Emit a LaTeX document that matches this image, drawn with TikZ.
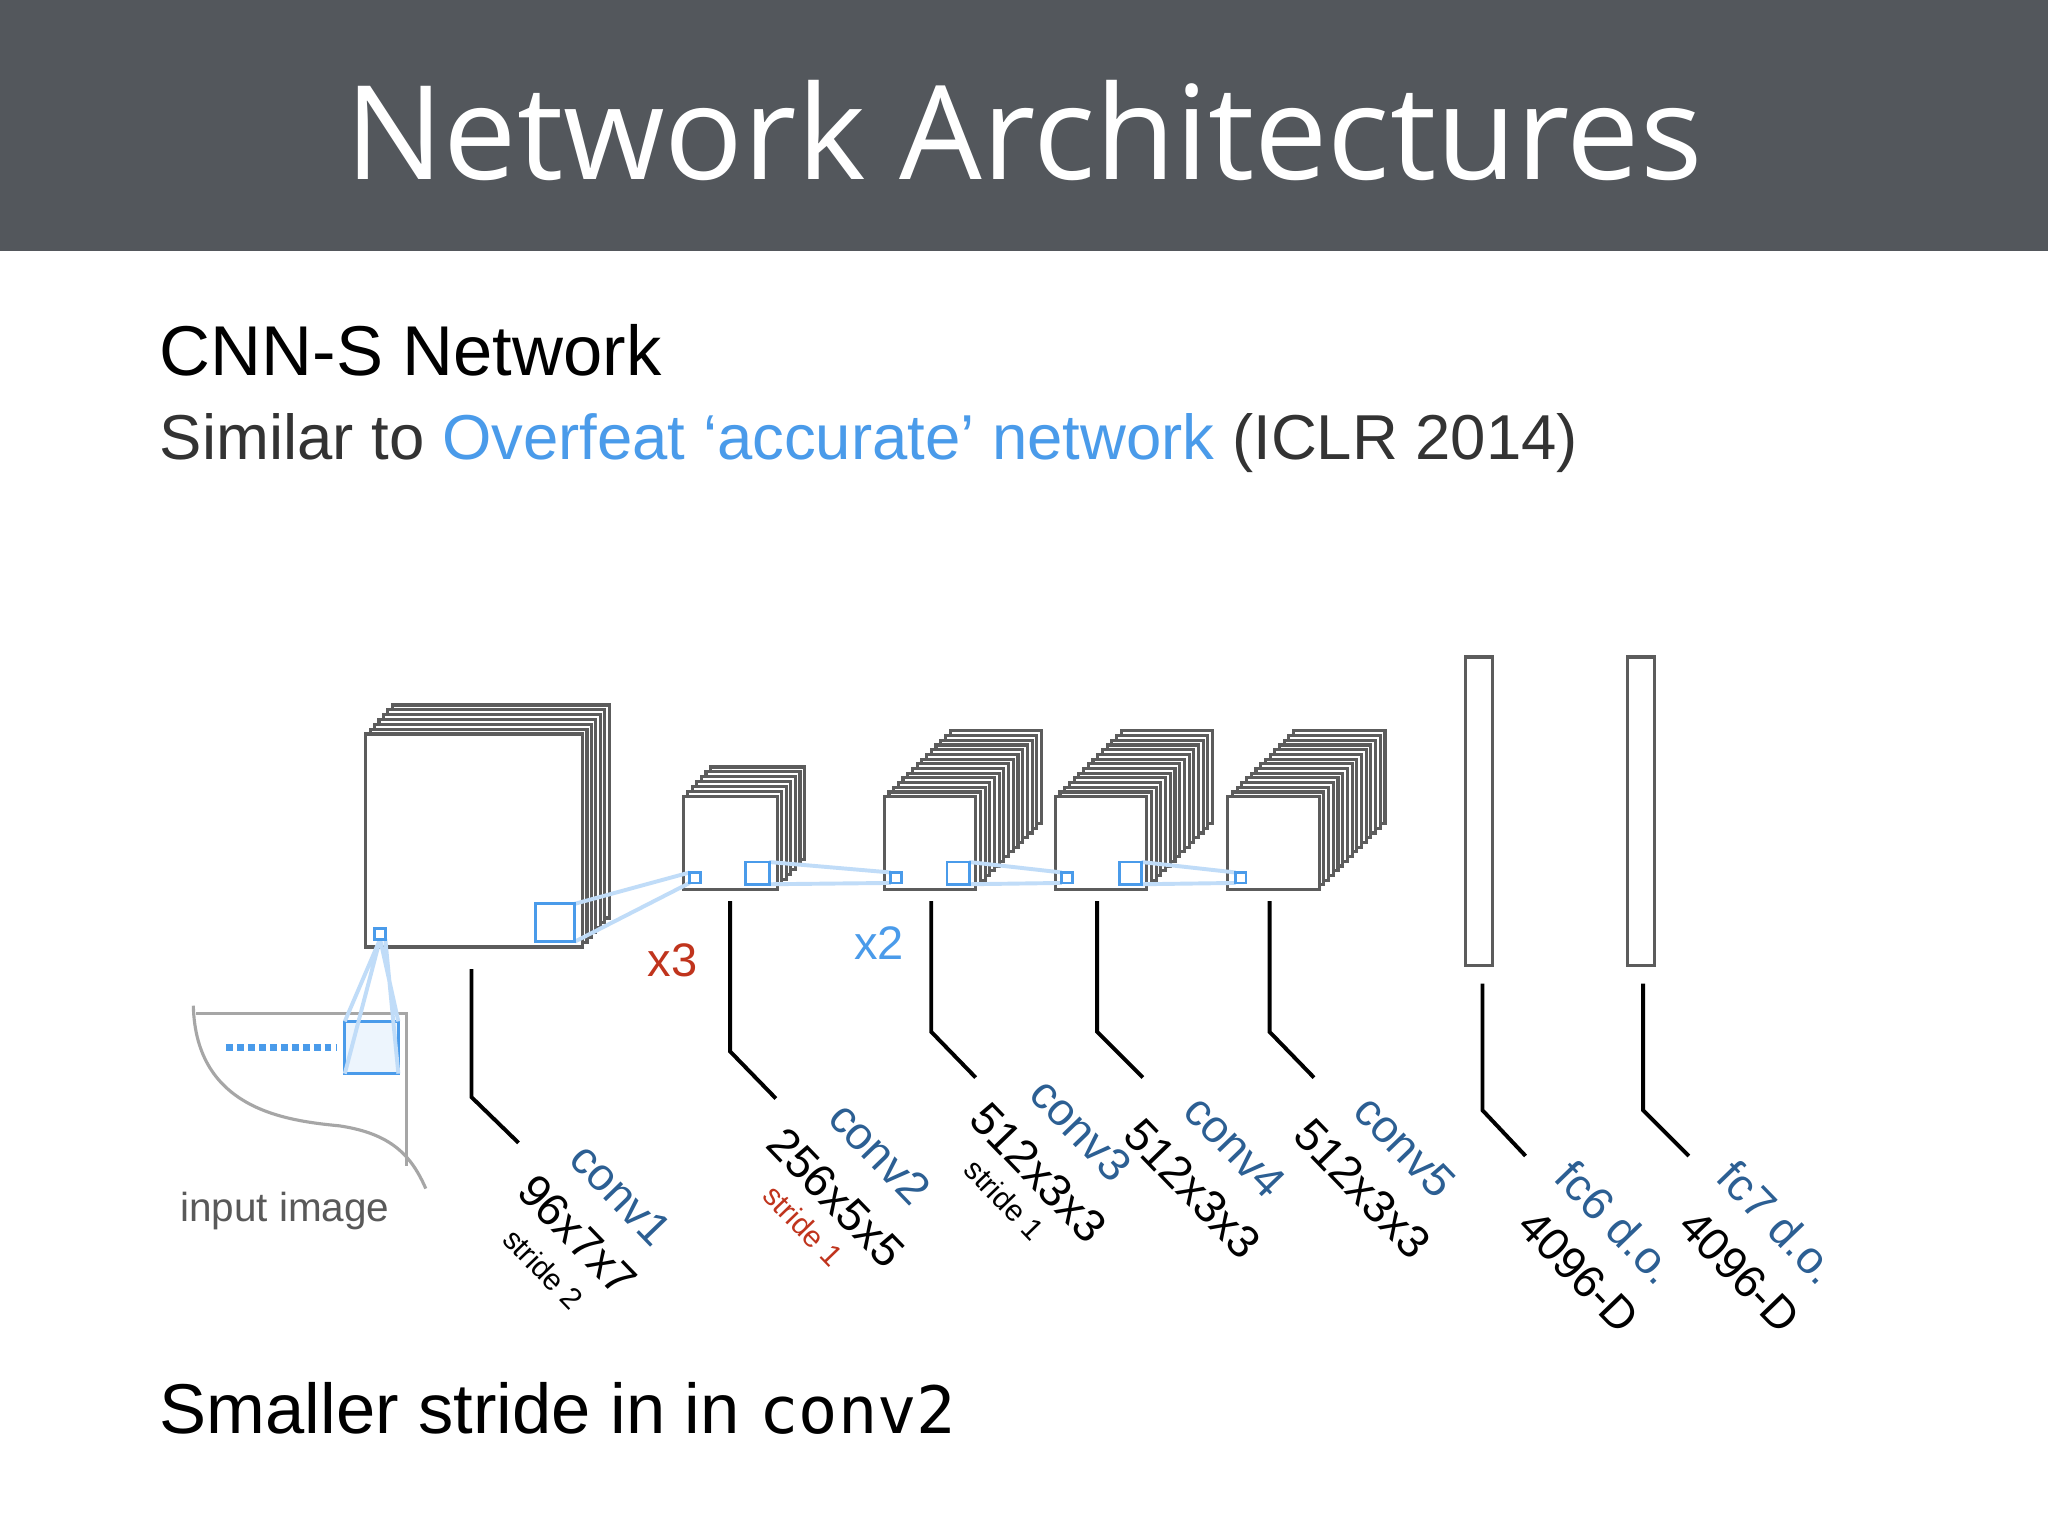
\documentclass[tikz,border=0pt]{standalone}
\usepackage{fontspec}
\setmainfont{Liberation Sans}
\newfontfamily\titlefont{Open Sans}
\newfontfamily\codefont{DejaVu Sans Mono}
\begin{document}
\begin{tikzpicture}[x=0.5pt,y=-0.5pt,
  layer/.style={draw=gray!40!black!80,line width=1.2pt,fill=white},
  blue sq/.style={draw=blueA,line width=1.1pt},
  link/.style={draw=blueA!35,line width=1.5pt},
  leader/.style={draw=black,line width=1.5pt},
  lab/.style={rotate=-46,anchor=north west,inner sep=0pt,font=\fontsize{17.5}{17.5}\selectfont,text=labblue},
  dim/.style={rotate=-46,anchor=north west,inner sep=0pt,font=\fontsize{17.5}{17.5}\selectfont,text=black},
  strd/.style={rotate=-46,anchor=north west,inner sep=0pt,font=\fontsize{11.5}{11.5}\selectfont}]
\definecolor{blueA}{HTML}{4A9BEA}
\definecolor{labblue}{HTML}{2C5F93}
\definecolor{redA}{HTML}{C0341D}
\definecolor{band}{HTML}{53575C}
\useasboundingbox (0,0) rectangle (1568,1176);
\fill[white] (0,0) rectangle (1568,1176);
\fill[band] (0,0) rectangle (1568,192);
\node (title) at (784,100) {\titlefont\fontsize{50}{50}\selectfont\color{white}Network Architectures};
\node[anchor=west,inner sep=0pt] (h1) at (122,268) {\fontsize{27}{27}\selectfont CNN-S Network};
\node[anchor=west,inner sep=0pt] (h2) at (122,339) {\fontsize{24.3}{24.3}\selectfont\color{black!80}Similar to \textcolor{blueA}{Overfeat ‘accurate’ network} (ICLR 2014)};
\node[anchor=west,inner sep=0pt] (h3) at (122,1078) {\fontsize{27}{27}\selectfont Smaller stride in in {\codefont\fontsize{25}{25}\selectfont conv2}};
% stacks
\newcommand{\mystack}[7]{%
  \foreach \i in {#5,...,0}{\draw[layer] ({#1+\i*#6},{#2-\i*#7}) rectangle ({#3+\i*#6},{#4-\i*#7});}}
\mystack{280}{562}{446}{725}{6}{3.4}{3.7}
\mystack{523}{610}{595}{681}{6}{3.5}{3.8}
\mystack{677}{610}{747}{681}{14}{3.6}{3.6}
\mystack{808}{610}{878}{681}{14}{3.6}{3.6}
\mystack{940}{610}{1010}{681}{14}{3.6}{3.6}
\draw[layer] (1122,503) rectangle (1143,739);
\draw[layer] (1246,503) rectangle (1267,739);
% input image
\draw[gray!70,line width=1.2pt] (148,770) .. controls (150,850) and (220,858) .. (260,862) .. controls (300,868) and (315,885) .. (326,910);
\draw[gray!70,line width=1.2pt] (150,776) -- (311,776) -- (311,893);
\draw[blueA,line width=2.5pt,dash pattern=on 2.6pt off 1.6pt] (173,802) -- (258,802);
\draw[blue sq,fill=blueA!10] (264,782) rectangle (305,822);
% links
\draw[link] (291,719) -- (264,822) (291,719) -- (264,782) (291,719) -- (305,782) (295,719) -- (305,822);
\draw[link] (440,692) -- (528,668) (440,721) -- (528,676);
\draw[link] (589,660) -- (682,668) (589,677) -- (682,676);
\draw[link] (742,660) -- (813,668) (742,677) -- (813,676);
\draw[link] (874,660) -- (946,668) (874,677) -- (946,676);
% blue squares
\draw[blue sq] (287,711) rectangle (295,719);
\draw[blue sq] (410,692) rectangle (440,721);
\draw[blue sq] (528,668) rectangle (536,676);
\draw[blue sq] (571,660) rectangle (589,677);
\draw[blue sq] (682,668) rectangle (690,676);
\draw[blue sq] (725,660) rectangle (742,677);
\draw[blue sq] (813,668) rectangle (821,676);
\draw[blue sq] (857,660) rectangle (874,677);
\draw[blue sq] (946,668) rectangle (954,676);
% leaders
\draw[leader] (361,742) -- (361,840) -- (397,875);
\draw[leader] (559,690) -- (559,805) -- (594,841);
\draw[leader] (713,690) -- (713,790) -- (747,825);
\draw[leader] (840,690) -- (840,790) -- (875,825);
\draw[leader] (972,690) -- (972,790) -- (1006,825);
\draw[leader] (1135,753) -- (1135,850) -- (1168,885);
\draw[leader] (1258,753) -- (1258,850) -- (1293,885);
% labels
\node[text=redA,font=\fontsize{18}{18}\selectfont] (x3) at (515,735) {x3};
\node[text=blueA,font=\fontsize{18}{18}\selectfont] (x2) at (673,722) {x2};
\node[text=black!65,font=\fontsize{15.5}{15.5}\selectfont] (inp) at (218,927) {input image};
\node[lab] (l1) at (452,872) {conv1};
\node[dim] (d1) at (412,896) {96x7x7};
\node[strd] (s1) at (396,938) {stride 2};
\node[lab] (l2) at (650,840) {conv2};
\node[dim] (d2) at (603,860) {256x5x5};
\node[strd,text=redA] (s2) at (595,905) {stride 1};
\node[lab] (l3) at (804,822) {conv3};
\node[dim] (d3) at (758,841) {512x3x3};
\node[strd] (s3) at (749,885) {stride 1};
\node[lab] (l4) at (922,835) {conv4};
\node[dim] (d4) at (876,853) {512x3x3};
\node[lab] (l5) at (1052,835) {conv5};
\node[dim] (d5) at (1006,853) {512x3x3};
\node[lab] (l6) at (1207,885) {fc6 d.o.};
\node[dim] (d6) at (1178,923) {4096-D};
\node[lab] (l7) at (1331,885) {fc7 d.o.};
\node[dim] (d7) at (1301,923) {4096-D};
\end{tikzpicture}
\end{document}
